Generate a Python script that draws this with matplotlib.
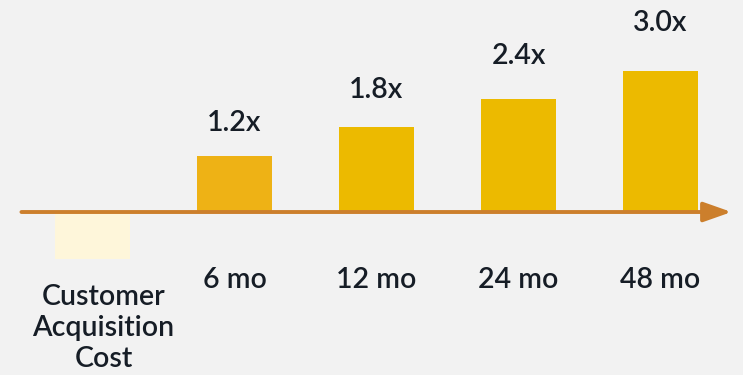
import matplotlib
matplotlib.use("Agg")
import matplotlib.pyplot as plt

# ---- data ----
categories = ["Customer\nAcquisition\nCost", "6 mo", "12 mo", "24 mo", "48 mo"]
multiples = [-1.0, 1.2, 1.8, 2.4, 3.0]
value_labels = ["", "1.2x", "1.8x", "2.4x", "3.0x"]
bar_colors = ["#FEF6DA", "#EEB215", "#ECBA00", "#ECBA00", "#ECBA00"]

BG = "#F2F2F2"
AXIS = "#CC7F2C"
TEXT = "#161D26"
FS = 20.5

plt.rcParams["font.family"] = ["Lato", "DejaVu Sans"]

fig = plt.figure(figsize=(7.43, 3.75), dpi=100, facecolor=BG)
ax = fig.add_axes([0, 0, 1, 1])
ax.set_facecolor(BG)

x = list(range(len(categories)))
ax.bar(x, multiples, width=0.53, color=bar_colors, zorder=2)

# horizontal axis with arrow head
ax.annotate("", xy=(4.50, 0), xytext=(-0.50, 0),
            arrowprops=dict(arrowstyle="-|>,head_length=1.7,head_width=0.6",
                            color=AXIS, lw=2.8, shrinkA=0, shrinkB=0),
            zorder=3)

# value labels float a little higher as the bars grow
for xi, v, lab in zip(x, multiples, value_labels):
    if lab:
        ax.text(xi, 1.19 * v + 0.46, lab, ha="center", va="center",
                fontsize=FS, color=TEXT, fontweight="semibold")

for xi, cat in zip(x, categories):
    if "\n" in cat:
        ax.annotate(cat, (xi, 0), xytext=(8, -52), textcoords="offset points",
                    ha="center", va="top", fontsize=FS, color=TEXT,
                    linespacing=1.24, fontweight="semibold")
    else:
        ax.annotate(cat, (xi, 0), xytext=(0, -49), textcoords="offset points",
                    ha="center", va="center", fontsize=FS, color=TEXT,
                    fontweight="semibold")

ax.set_xlim(-0.651, 4.581)
ax.set_ylim(-3.468, 4.511)
ax.axis("off")

fig.savefig("out.png", dpi=100, facecolor=BG)
